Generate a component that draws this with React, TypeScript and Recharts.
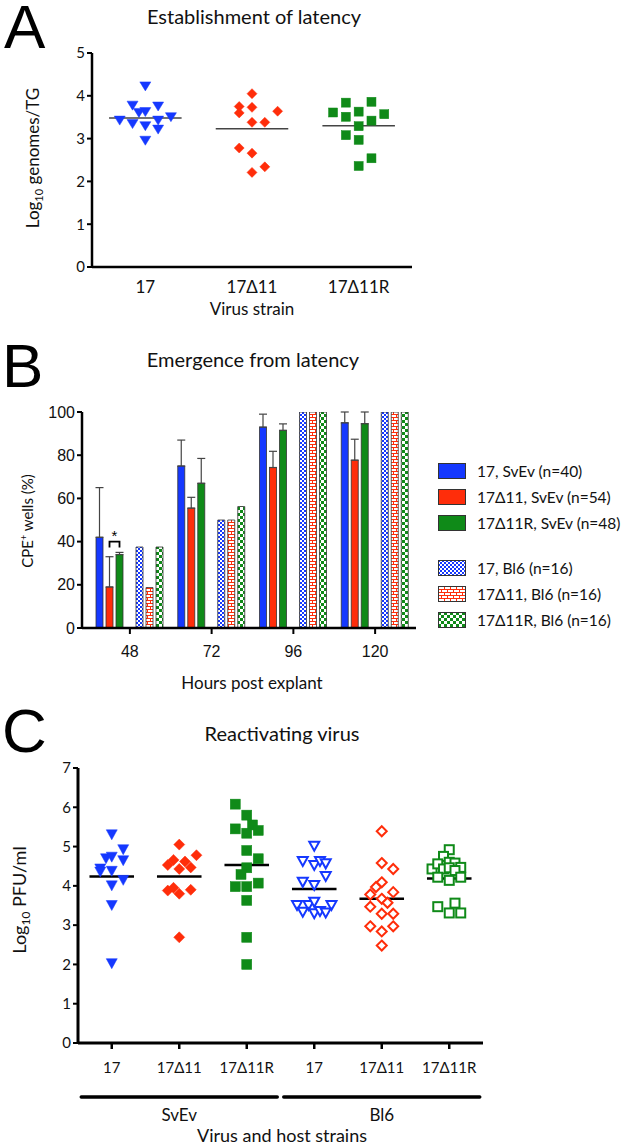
import React from 'react'
import {
  ScatterChart,
  Scatter,
  BarChart,
  Bar,
  XAxis,
  YAxis,
  ReferenceLine,
  ErrorBar,
  LabelList,
} from 'recharts'

const BLUE = '#1538ff'
const RED = '#ff2d0a'
const GREEN = '#0f8a18'
const CAL = 'Lato, "Open Sans", sans-serif'
const ARIAL = '"Liberation Sans", Arial, sans-serif'

// ---- panel A: establishment of latency ----
const strainsA = ['17', '17Δ11', '17Δ11R']
const lat17 = [4.22, 3.77, 3.75, 3.6, 3.62, 3.42, 3.34, 3.5, 3.42, 3.29, 3.21, 2.95]
const lat17Cols = [0, -2, 2, -1, 0, -4, -2, 4, 2, 0, 2, 0]
const latD11 = [4.05, 3.75, 3.73, 3.64, 3.6, 3.38, 3.38, 2.78, 2.66, 2.34, 2.21]
const latD11Cols = [0, -2, 0, 4, -2, 0, 2, -2, 0, 2, 0]
const latD11R = [3.61, 3.84, 3.51, 3.63, 3.29, 2.97, 3.86, 3.42, 3.57, 3.08, 2.54, 2.36]
const latD11RCols = [-4, -2, -2, 0, 0, 0, 2, 2, 4, -2, 2, 0]
const latMeans = [3.48, 3.23, 3.3]
const ticksA = [0, 1, 2, 3, 4, 5]

// ---- panel B: emergence from latency ----
const hours = ['48', '72', '96', '120']
const svev17 = [42, 75, 93, 95]
const svevD11 = [19, 55.5, 74.3, 77.7]
const svevD11R = [34, 67, 91.5, 94.6]
const err17 = [23, 12, 6, 5]
const errD11 = [14, 5, 7.5, 9.7]
const errD11R = [1, 11.5, 3, 5.4]
const bl617 = [37.5, 50, 100, 100]
const bl6D11 = [18.75, 50, 100, 100]
const bl6D11R = [37.5, 56.25, 100, 100]
const ticksB = [0, 20, 40, 60, 80, 100]
const sigMark = { index: 0, level: 40 }

const legendB = [
  { label: '17, SvEv (n=40)', fill: BLUE },
  { label: '17Δ11, SvEv (n=54)', fill: RED },
  { label: '17Δ11R, SvEv (n=48)', fill: GREEN },
  { label: '17, Bl6 (n=16)', fill: 'url(#patBlue)' },
  { label: '17Δ11, Bl6 (n=16)', fill: 'url(#patRed)' },
  { label: '17Δ11R, Bl6 (n=16)', fill: 'url(#patGreen)' },
]

// ---- panel C: reactivating virus ----
const strainsC = ['17', '17Δ11', '17Δ11R', '17', '17Δ11', '17Δ11R']
const hosts = ['SvEv', 'Bl6']
const hostTicks = [2, 5]
const rv17S = [5.3, 4.92, 4.69, 4.73, 4.64, 4.43, 4.35, 4.37, 4.14, 4.0, 3.5, 2.02]
const rv17SCols = [0, 2, -1, 0, 2, -2, -2, 0, 2, 0, 0, 0]
const rvD11S = [5.05, 4.78, 4.66, 4.62, 4.53, 4.47, 4.43, 3.88, 3.95, 3.8, 3.9, 2.69]
const rvD11SCols = [0, 3, -1, 1, -2, 2, 0, -2, -1, 0, 2, 0]
const rvD11RS = [6.08, 5.8, 5.45, 5.55, 5.34, 5.41, 4.9, 4.69, 4.46, 4.29, 4.07, 3.98, 3.98, 3.63, 2.69, 2.0]
const rvD11RSCols = [-2, 0, -2, 1, 0, 2, 0, 2, 0, -1, 2, -2, 0, 0, 0, 0]
const rv17B = [5.01, 4.62, 4.52, 4.62, 4.56, 4.24, 4.09, 4.01, 3.5, 3.5, 3.58, 3.5, 3.33, 3.29, 3.35, 3.31]
const rv17BCols = [0, -2, 0, 1, 2, 2, -2, 0, -3, -1, 0, 3, -2, 0, 1, 2]
const rvD11B = [5.39, 4.58, 4.43, 4.09, 3.97, 3.78, 3.84, 3.67, 3.57, 3.47, 3.29, 3.29, 2.97, 2.97, 2.84, 2.48]
const rvD11BCols = [0, 0, 2, 0, -1, -2, 2, 0, 1, -2, 0, 2, -2, 2, 0, 0]
const rvD11RB = [4.92, 4.75, 4.43, 4.56, 4.6, 4.58, 4.47, 4.43, 4.46, 4.39, 4.22, 4.14, 4.22, 3.47, 3.56, 3.31, 3.31]
const rvD11RBCols = [0, -1, -3, -2, 0, 1, 2, -1, 0, 1, -2, 0, 2, -2, 1, 0, 2]
const rvMeans = [4.24, 4.24, 4.53, 3.92, 3.67, 4.19]
const ticksC = [0, 1, 2, 3, 4, 5, 6, 7]

const toPoints = (group: number, vals: number[], cols: number[], step: number) =>
  vals.map((v, i) => ({ x: group + cols[i] * step, y: v }))

// marker shapes
const triDown = (color: string, open: boolean, w: number, h: number) => (p: any) => {
  const { cx, cy } = p
  return (
    <polygon
      points={`${cx - w / 2},${cy - h / 2} ${cx + w / 2},${cy - h / 2} ${cx},${cy + h / 2}`}
      fill={open ? '#fff' : color}
      stroke={color}
      strokeWidth={open ? 2 : 0.5}
    />
  )
}
const diamond = (color: string, open: boolean, r: number) => (p: any) => {
  const { cx, cy } = p
  return (
    <polygon
      points={`${cx},${cy - r} ${cx + r},${cy} ${cx},${cy + r} ${cx - r},${cy}`}
      fill={open ? '#fff' : color}
      stroke={color}
      strokeWidth={open ? 2 : 0.5}
    />
  )
}
const square = (color: string, open: boolean, s: number) => (p: any) => {
  const { cx, cy } = p
  return (
    <rect
      x={cx - s / 2}
      y={cy - s / 2}
      width={s}
      height={s}
      fill={open ? '#fff' : color}
      stroke={color}
      strokeWidth={open ? 2 : 0.5}
    />
  )
}

const Txt = ({ x, y, size, family = CAL, rotate = false, children }: any) => (
  <div
    style={{
      position: 'absolute',
      left: x,
      top: y,
      transform: `translate(-50%, -50%)${rotate ? ' rotate(-90deg)' : ''}`,
      fontSize: size,
      fontFamily: family,
      whiteSpace: 'nowrap',
      lineHeight: 1,
      color: '#111',
    }}
  >
    {children}
  </div>
)

const Letter = ({ x, y, children }: any) => (
  <div style={{ position: 'absolute', left: x, top: y, fontSize: 62, lineHeight: '50px', fontFamily: ARIAL, color: '#000' }}>
    {children}
  </div>
)

const axisLine = { stroke: '#000', strokeWidth: 2.5 }
const tickLine = { stroke: '#000', strokeWidth: 2 }

function PanelA() {
  const JIT = 0.06
  return (
    <div style={{ position: 'absolute', left: 0, top: 0 }}>
      <ScatterChart width={440} height={330} margin={{ top: 53, right: 28, left: 0, bottom: 0 }}>
        <XAxis
          type="number"
          dataKey="x"
          domain={[0.5, 3.5]}
          ticks={[1, 2, 3]}
          tickFormatter={(v) => strainsA[v - 1]}
          axisLine={axisLine}
          tickLine={false}
          tickMargin={8}
          height={63}
          tick={{ fill: '#111', fontSize: 17, fontFamily: CAL }}
        />
        <YAxis
          type="number"
          dataKey="y"
          domain={[0, 5]}
          ticks={ticksA}
          width={92}
          axisLine={axisLine}
          tickLine={tickLine}
          tickSize={5}
          tickMargin={2}
          tick={{ fill: '#111', fontSize: 15, fontFamily: CAL }}
        />
        <Scatter data={toPoints(1, lat17, lat17Cols, JIT)} shape={triDown(BLUE, false, 11, 9)} isAnimationActive={false} />
        <Scatter data={toPoints(2, latD11, latD11Cols, JIT)} shape={diamond(RED, false, 5)} isAnimationActive={false} />
        <Scatter data={toPoints(3, latD11R, latD11RCols, JIT)} shape={square(GREEN, false, 9)} isAnimationActive={false} />
        {latMeans.map((m, i) => (
          <ReferenceLine
            key={i}
            segment={[{ x: i + 1 - 0.34, y: m }, { x: i + 1 + 0.34, y: m }]}
            stroke="#444"
            strokeWidth={1.5}
          />
        ))}
      </ScatterChart>
      <Letter x={4} y={2}>A</Letter>
      <Txt x={254} y={16} size={20}>Establishment of latency</Txt>
      <Txt x={34} y={158} size={17} rotate>
        Log<sub style={{ fontSize: 11 }}>10</sub> genomes/TG
      </Txt>
      <Txt x={252} y={308} size={17}>Virus strain</Txt>
    </div>
  )
}

const BAR_SIZE = 7
const BAR_GAP = 3

const renderSig = (p: any) => {
  if (p.index !== sigMark.index) return null
  const x = Number(p.x)
  const y = Number(p.y)
  const w = Number(p.width)
  const h = Number(p.height)
  const v = Number(p.value)
  const base = y + h
  const yy = base - (h / v) * sigMark.level
  const x1 = x + w / 2
  const x2 = x1 + BAR_SIZE + BAR_GAP
  return (
    <g>
      <path d={`M${x1},${yy + 6} V${yy} H${x2} V${yy + 6}`} fill="none" stroke="#000" strokeWidth={1.8} />
      <text x={(x1 + x2) / 2} y={yy - 1} textAnchor="middle" fontSize={15} fontFamily={ARIAL} fill="#000">*</text>
    </g>
  )
}

function PanelB() {
  const data = hours.map((t, i) => ({
    t,
    s17: svev17[i],
    sD11: svevD11[i],
    sD11R: svevD11R[i],
    gap: 0,
    b17: bl617[i],
    bD11: bl6D11[i],
    bD11R: bl6D11R[i],
    e17: [0, err17[i]],
    eD11: [0, errD11[i]],
    eD11R: [0, errD11R[i]],
  }))
  const barStroke = { stroke: '#333', strokeWidth: 0.8 }
  return (
    <div style={{ position: 'absolute', left: 0, top: 330 }}>
      <BarChart width={623} height={370} data={data} margin={{ top: 82, right: 207, left: 0, bottom: 0 }} barSize={BAR_SIZE} barGap={BAR_GAP}>
        <XAxis
          dataKey="t"
          padding={{ left: 7, right: 0 }}
          axisLine={axisLine}
          tickLine={tickLine}
          tickSize={6}
          tickMargin={12}
          height={72}
          tick={{ fill: '#111', fontSize: 16, fontFamily: ARIAL }}
        />
        <YAxis
          domain={[0, 100]}
          allowDataOverflow
          ticks={ticksB}
          width={82}
          axisLine={axisLine}
          tickLine={tickLine}
          tickSize={5}
          tickMargin={2}
          tick={{ fill: '#111', fontSize: 16, fontFamily: ARIAL }}
        />
        <Bar dataKey="s17" fill={BLUE} {...barStroke} isAnimationActive={false}>
          <ErrorBar dataKey="e17" width={4} stroke="#444" strokeWidth={1.2} />
        </Bar>
        <Bar dataKey="sD11" fill={RED} {...barStroke} isAnimationActive={false}>
          <ErrorBar dataKey="eD11" width={4} stroke="#444" strokeWidth={1.2} />
          <LabelList dataKey="sD11" content={renderSig} />
        </Bar>
        <Bar dataKey="sD11R" fill={GREEN} {...barStroke} isAnimationActive={false}>
          <ErrorBar dataKey="eD11R" width={4} stroke="#444" strokeWidth={1.2} />
        </Bar>
        <Bar dataKey="gap" fill="none" stroke="none" isAnimationActive={false} />
        <Bar dataKey="b17" fill="url(#patBlue)" {...barStroke} isAnimationActive={false} />
        <Bar dataKey="bD11" fill="url(#patRed)" {...barStroke} isAnimationActive={false} />
        <Bar dataKey="bD11R" fill="url(#patGreen)" {...barStroke} isAnimationActive={false} />
      </BarChart>
      <Letter x={2} y={11}>B</Letter>
      <Txt x={253} y={29} size={20}>Emergence from latency</Txt>
      <Txt x={27} y={191} size={15} rotate>
        CPE<sup style={{ fontSize: 9 }}>+</sup> wells (%)
      </Txt>
      <Txt x={252} y={352} size={17}>Hours post explant</Txt>
      <div style={{ position: 'absolute', left: 438, top: 128 }}>
        {legendB.map((it, i) => (
          <div
            key={it.label}
            style={{ display: 'flex', alignItems: 'center', height: 26, marginTop: i === 3 ? 19 : 0, fontFamily: CAL, fontSize: 15.5, color: '#111', whiteSpace: 'nowrap' }}
          >
            <svg width={28} height={16} style={{ marginRight: 11 }}>
              <rect x={0.5} y={0.5} width={27} height={15} fill={it.fill} stroke="#333" strokeWidth={1} />
            </svg>
            {it.label}
          </div>
        ))}
      </div>
    </div>
  )
}

function PanelC() {
  const JIT = 0.085
  const GROUP_HALF = 98
  // strain label per tick, plus the host bracket under the middle strain of each host
  const strainTick = (p: any) => {
    const { x, y, payload } = p
    const v = payload.value
    const hi = hostTicks.indexOf(v)
    return (
      <g>
        <text x={x} y={y + 3} dy="0.71em" textAnchor="middle" fontSize={15} fontFamily={CAL} fill="#111">
          {strainsC[v - 1]}
        </text>
        {hi >= 0 && (
          <g>
            <line x1={x - GROUP_HALF} x2={x + GROUP_HALF} y1={y + 38} y2={y + 38} stroke="#000" strokeWidth={3.5} strokeLinecap="round" />
            <text x={x} y={y + 62} textAnchor="middle" fontSize={17} fontFamily={CAL} fill="#111">
              {hosts[hi]}
            </text>
          </g>
        )}
      </g>
    )
  }
  return (
    <div style={{ position: 'absolute', left: 0, top: 690 }}>
      <ScatterChart width={623} height={455} margin={{ top: 78, right: 140, left: 0, bottom: 0 }}>
        <XAxis
          type="number"
          dataKey="x"
          domain={[0.5, 6.5]}
          ticks={[1, 2, 3, 4, 5, 6]}
          axisLine={{ stroke: '#000', strokeWidth: 3 }}
          tickLine={{ stroke: '#000', strokeWidth: 2.5 }}
          tickSize={6}
          tickMargin={10}
          height={102}
          tick={strainTick}
        />
        <YAxis
          type="number"
          dataKey="y"
          domain={[0, 7]}
          ticks={ticksC}
          width={78}
          axisLine={{ stroke: '#000', strokeWidth: 3 }}
          tickLine={tickLine}
          tickSize={5}
          tickMargin={2}
          tick={{ fill: '#111', fontSize: 15, fontFamily: CAL }}
        />
        <Scatter data={toPoints(1, rv17S, rv17SCols, JIT)} shape={triDown(BLUE, false, 11, 10)} isAnimationActive={false} />
        <Scatter data={toPoints(2, rvD11S, rvD11SCols, JIT)} shape={diamond(RED, false, 5.5)} isAnimationActive={false} />
        <Scatter data={toPoints(3, rvD11RS, rvD11RSCols, JIT)} shape={square(GREEN, false, 10)} isAnimationActive={false} />
        <Scatter data={toPoints(4, rv17B, rv17BCols, JIT)} shape={triDown(BLUE, true, 10, 9)} isAnimationActive={false} />
        <Scatter data={toPoints(5, rvD11B, rvD11BCols, JIT)} shape={diamond(RED, true, 5)} isAnimationActive={false} />
        <Scatter data={toPoints(6, rvD11RB, rvD11RBCols, JIT)} shape={square(GREEN, true, 9)} isAnimationActive={false} />
        {rvMeans.map((m, i) => (
          <ReferenceLine
            key={i}
            segment={[{ x: i + 1 - 0.33, y: m }, { x: i + 1 + 0.33, y: m }]}
            stroke="#000"
            strokeWidth={2.5}
          />
        ))}
      </ScatterChart>
      <Letter x={2} y={16}>C</Letter>
      <Txt x={282} y={43} size={20}>Reactivating virus</Txt>
      <Txt x={21} y={210} size={18} rotate>
        Log<sub style={{ fontSize: 12 }}>10</sub> PFU/ml
      </Txt>
      <Txt x={282} y={445} size={18}>Virus and host strains</Txt>
    </div>
  )
}

export default function App() {
  return (
    <div style={{ position: 'absolute', left: 0, top: 0, width: 623, height: 1145, background: '#fff', overflow: 'hidden' }}>
      <svg width={0} height={0} style={{ position: 'absolute' }}>
        <defs>
          <pattern id="patBlue" width={4} height={4} patternUnits="userSpaceOnUse">
            <rect width={4} height={4} fill="#fff" />
            <rect width={2} height={2} fill={BLUE} />
            <rect x={2} y={2} width={2} height={2} fill={BLUE} />
          </pattern>
          <pattern id="patRed" width={6} height={6} patternUnits="userSpaceOnUse">
            <rect width={6} height={6} fill="#fff" />
            <path d="M0,0.5 H6 M0,3.5 H6 M0.5,0 V3.5 M3.5,3.5 V6" stroke={RED} strokeWidth={1} />
          </pattern>
          <pattern id="patGreen" width={6} height={6} patternUnits="userSpaceOnUse">
            <rect width={6} height={6} fill="#fff" />
            <rect width={3} height={3} fill={GREEN} />
            <rect x={3} y={3} width={3} height={3} fill={GREEN} />
          </pattern>
        </defs>
      </svg>
      <PanelA />
      <PanelB />
      <PanelC />
    </div>
  )
}
